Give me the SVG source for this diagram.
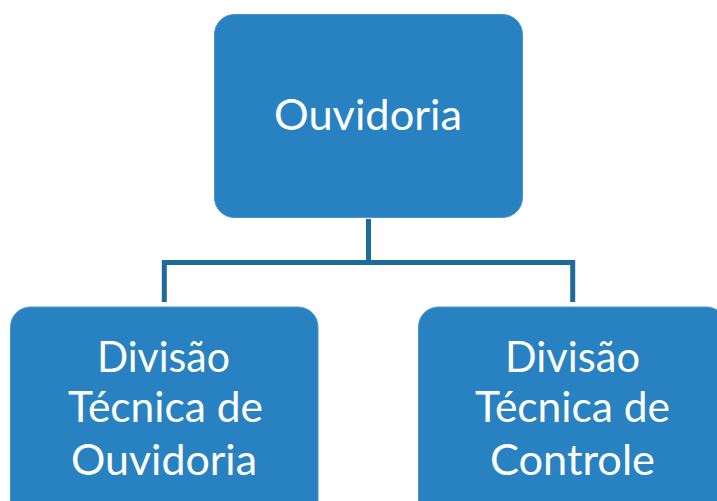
<svg xmlns="http://www.w3.org/2000/svg" width="717" height="501" viewBox="0 0 717 501">
<style>
.box{fill:#2882c1;stroke:#4a95cc;stroke-width:1}
.lbl{font-family:Lato,"Open Sans",sans-serif;font-size:43px;fill:#ffffff;text-anchor:middle}
.conn{stroke:#1d6a9c;stroke-width:5;fill:none}
</style>
<rect width="717" height="501" fill="#ffffff"/>
<g id="connectors">
<path class="conn" d="M368.5,219 V262.5 M161.8,262.5 H575.2 M164.3,260 V302 M572.7,260 V302"/>
</g>
<g id="node-ouvidoria">
<rect class="box" x="214.5" y="14.5" width="308" height="203" rx="20"/>
<text class="lbl" x="368" y="130" textLength="188" lengthAdjust="spacingAndGlyphs">Ouvidoria</text>
</g>
<g id="node-div-ouvidoria">
<rect class="box" x="10.5" y="307" width="307.5" height="220" rx="20"/>
<text class="lbl" x="163.5" y="371.5" textLength="133" lengthAdjust="spacingAndGlyphs">Divisão</text>
<text class="lbl" x="165.5" y="421.5" textLength="195" lengthAdjust="spacingAndGlyphs">Técnica de</text>
<text class="lbl" x="164" y="474.5" textLength="186" lengthAdjust="spacingAndGlyphs">Ouvidoria</text>
</g>
<g id="node-div-controle">
<rect class="box" x="418.5" y="307" width="308" height="220" rx="20"/>
<text class="lbl" x="572.5" y="371.5" textLength="135" lengthAdjust="spacingAndGlyphs">Divisão</text>
<text class="lbl" x="572.5" y="421.5" textLength="195" lengthAdjust="spacingAndGlyphs">Técnica de</text>
<text class="lbl" x="572.5" y="474.5" textLength="165" lengthAdjust="spacingAndGlyphs">Controle</text>
</g>
</svg>
